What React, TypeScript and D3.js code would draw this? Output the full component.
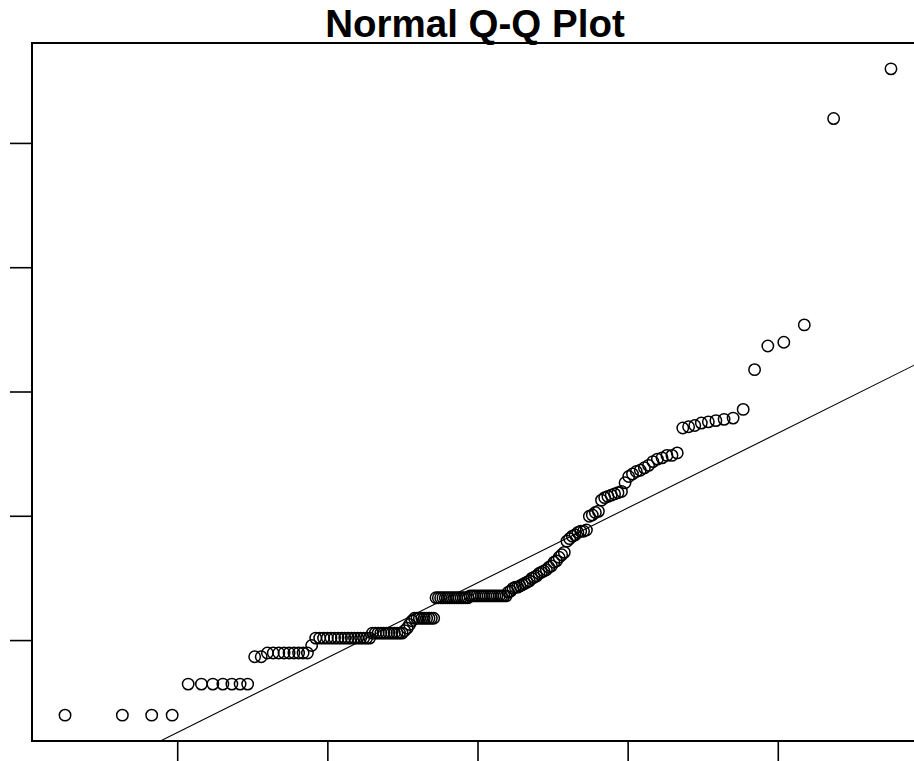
import React, { useEffect, useRef } from 'react';
import * as d3 from 'd3';

const title = 'Normal Q-Q Plot';

// sorted sample values
const sample = [
  4.0, 4.0, 4.0, 4.0,
  6.5, 6.5, 6.5, 6.5, 6.5, 6.5, 6.5,
  8.7, 8.7,
  9.0, 9.0, 9.0, 9.0, 9.0, 9.0, 9.0, 9.0, 9.0,
  9.6,
  10.2, 10.2, 10.2, 10.2, 10.2, 10.2, 10.2, 10.2, 10.2, 10.2, 10.2, 10.2, 10.2, 10.2, 10.2, 10.2, 10.2,
  10.6, 10.6, 10.6, 10.6, 10.6, 10.6, 10.6, 10.6, 10.6, 10.6, 10.6, 10.6,
  10.8, 11.0, 11.3, 11.6,
  11.8, 11.8, 11.8, 11.8, 11.8, 11.8, 11.8, 11.8, 11.8,
  13.45, 13.45, 13.45, 13.45, 13.45, 13.45, 13.45, 13.45, 13.45, 13.45, 13.45, 13.45, 13.45, 13.45, 13.45,
  13.6, 13.6, 13.6, 13.6, 13.6, 13.6, 13.6, 13.6, 13.6, 13.6, 13.6, 13.6, 13.6, 13.6, 13.6, 13.6, 13.6,
  13.9, 14.0, 14.2, 14.3, 14.3, 14.4, 14.5, 14.6, 14.7, 14.8,
  15.0, 15.1, 15.2, 15.4, 15.5, 15.6, 15.7, 15.9, 16.0, 16.3,
  16.4, 16.7, 16.9, 17.1, 18.0, 18.2, 18.4, 18.5, 18.7, 18.8,
  18.8, 18.9, 20.0, 20.1, 20.3, 20.4,
  21.3, 21.5, 21.6, 21.7, 21.8, 21.9, 22.0, 22.7,
  23.2, 23.4, 23.6, 23.7, 23.9, 24.1, 24.4, 24.6, 24.7, 24.9, 24.9, 25.1,
  27.1, 27.2, 27.3, 27.5, 27.6, 27.7, 27.8, 27.9, 28.6,
  31.8, 33.7, 34.0, 35.4, 52.0, 56.0,
];

const xTicks = [-2, -1, 0, 1, 2];
const yTicks = [10, 20, 30, 40, 50];

// inverse normal cdf (Acklam)
function qnorm(p: number): number {
  const a = [-39.69683028665376, 220.9460984245205, -275.9285104469687, 138.357751867269, -30.66479806614716, 2.506628277459239];
  const b = [-54.47609879822406, 161.5858368580409, -155.6989798598866, 66.80131188771972, -13.28068155288572];
  const c = [-0.007784894002430293, -0.3223964580411365, -2.400758277161838, -2.549732539343734, 4.374664141464968, 2.938163982698783];
  const d = [0.007784695709041462, 0.3224671290700398, 2.445134137142996, 3.754408661907416];
  const lo = 0.02425;
  let q, r;
  if (p < lo) {
    q = Math.sqrt(-2 * Math.log(p));
    return (((((c[0] * q + c[1]) * q + c[2]) * q + c[3]) * q + c[4]) * q + c[5]) /
      ((((d[0] * q + d[1]) * q + d[2]) * q + d[3]) * q + 1);
  }
  if (p > 1 - lo) {
    q = Math.sqrt(-2 * Math.log(1 - p));
    return -(((((c[0] * q + c[1]) * q + c[2]) * q + c[3]) * q + c[4]) * q + c[5]) /
      ((((d[0] * q + d[1]) * q + d[2]) * q + d[3]) * q + 1);
  }
  q = p - 0.5;
  r = q * q;
  return (((((a[0] * r + a[1]) * r + a[2]) * r + a[3]) * r + a[4]) * r + a[5]) * q /
    (((((b[0] * r + b[1]) * r + b[2]) * r + b[3]) * r + b[4]) * r + 1);
}

export default function App() {
  const ref = useRef<SVGSVGElement>(null);

  useEffect(() => {
    const width = 914;
    const height = 761;
    const left = 32, top = 43, bottom = 741, right = 924;

    const svg = d3.select(ref.current);
    svg.selectAll('*').remove();

    const n = sample.length;
    const pts = sample.map((v, i) => ({ x: qnorm((i + 1 - 0.5) / n), y: v }));

    const xExt = d3.extent(pts, d => d.x) as [number, number];
    const yExt = d3.extent(pts, d => d.y) as [number, number];
    const padX = (xExt[1] - xExt[0]) * 0.04;
    const padY = (yExt[1] - yExt[0]) * 0.04;

    const x = d3.scaleLinear().domain([xExt[0] - padX, xExt[1] + padX]).range([left, right]);
    const y = d3.scaleLinear().domain([yExt[0] - padY, yExt[1] + padY]).range([bottom, top]);

    // title
    svg.append('text')
      .attr('x', (left + right) / 2 - 3)
      .attr('y', 37)
      .attr('text-anchor', 'middle')
      .style('font-family', 'Liberation Sans, Arial, sans-serif')
      .style('font-weight', 'bold')
      .style('font-size', '38.5px')
      .text(title);

    svg.append('clipPath').attr('id', 'plotclip')
      .append('rect')
      .attr('x', left).attr('y', top)
      .attr('width', right - left).attr('height', bottom - top);

    // qqline through the quartiles
    const q1 = d3.quantile(sample, 0.25) as number;
    const q3 = d3.quantile(sample, 0.75) as number;
    const z1 = qnorm(0.25), z3 = qnorm(0.75);
    const slope = (q3 - q1) / (z3 - z1);
    const icpt = q1 - slope * z1;
    const [d0, d1] = x.domain();
    svg.append('line')
      .attr('clip-path', 'url(#plotclip)')
      .attr('x1', x(d0)).attr('y1', y(icpt + slope * d0))
      .attr('x2', x(d1)).attr('y2', y(icpt + slope * d1))
      .attr('stroke', '#000')
      .attr('stroke-width', 1.1);

    svg.append('g')
      .selectAll('circle')
      .data(pts)
      .enter()
      .append('circle')
      .attr('cx', d => x(d.x))
      .attr('cy', d => y(d.y))
      .attr('r', 5.7)
      .attr('fill', 'none')
      .attr('stroke', '#000')
      .attr('stroke-width', 1.5);

    // box
    svg.append('rect')
      .attr('x', left).attr('y', top)
      .attr('width', right - left).attr('height', bottom - top)
      .attr('fill', 'none')
      .attr('stroke', '#000')
      .attr('stroke-width', 2);

    // ticks (no labels)
    svg.append('g')
      .selectAll('line')
      .data(yTicks)
      .enter()
      .append('line')
      .attr('x1', left - 22).attr('x2', left)
      .attr('y1', d => y(d)).attr('y2', d => y(d))
      .attr('stroke', '#000')
      .attr('stroke-width', 1.6);

    svg.append('g')
      .selectAll('line')
      .data(xTicks)
      .enter()
      .append('line')
      .attr('x1', d => x(d)).attr('x2', d => x(d))
      .attr('y1', bottom).attr('y2', height)
      .attr('stroke', '#000')
      .attr('stroke-width', 1.6);

    svg.attr('width', width).attr('height', height);
  }, []);

  return (
    <svg
      ref={ref}
      width={914}
      height={761}
      style={{ position: 'absolute', left: 0, top: 0, background: '#fff' }}
    />
  );
}
